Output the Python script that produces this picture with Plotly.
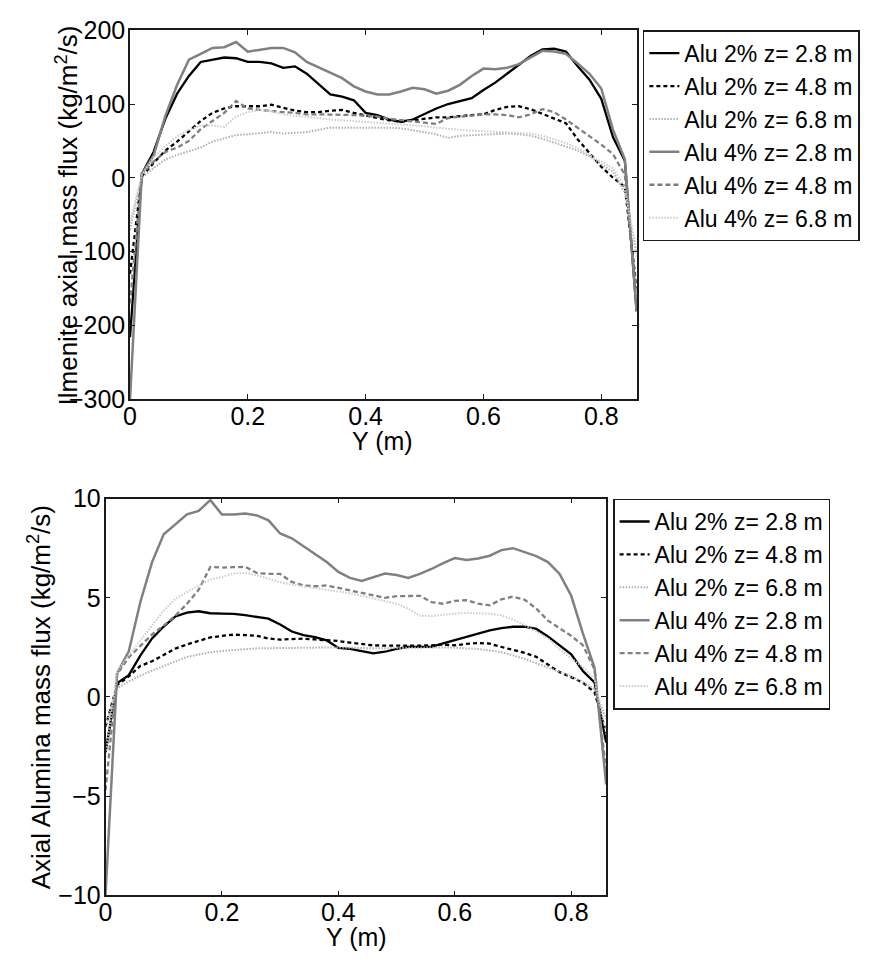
import plotly.graph_objects as go

# ---------------- data ----------------
Y = [0.00, 0.02, 0.04, 0.06, 0.08, 0.10, 0.12, 0.14, 0.16, 0.18, 0.20, 0.22, 0.24, 0.26, 0.28,
     0.30, 0.32, 0.34, 0.36, 0.38, 0.40, 0.42, 0.44, 0.46, 0.48, 0.50, 0.52, 0.54, 0.56, 0.58,
     0.60, 0.62, 0.64, 0.66, 0.68, 0.70, 0.72, 0.74, 0.76, 0.78, 0.80, 0.82, 0.84, 0.86]

series_names = ["Alu 2% z= 2.8 m", "Alu 2% z= 4.8 m", "Alu 2% z= 6.8 m",
                "Alu 4% z= 2.8 m", "Alu 4% z= 4.8 m", "Alu 4% z= 6.8 m"]

# Ilmenite axial mass flux (kg/m2/s)
ilm_2_28 = [-216, 5, 35, 80, 114, 138, 157, 160, 163, 162, 157, 157, 155, 149, 151,
            141, 127, 113, 110, 105, 88, 85, 79, 76, 79, 87, 94, 100, 104, 108,
            119, 129, 141, 153, 165, 174, 175, 171, 151, 133, 107, 55, 23, -181]
ilm_2_48 = [-130, 2, 20, 37, 49, 63, 77, 88, 94, 97, 97, 97, 99, 95, 91,
            89, 89, 91, 92, 88, 84, 81, 78, 76, 78, 80, 82, 82, 84, 85,
            86, 92, 96, 97, 93, 87, 81, 74, 52, 33, 15, 0, -12, -150]
ilm_2_68 = [-70, 0, 13, 25, 31, 36, 41, 49, 54, 58, 59, 60, 62, 60, 61,
            62, 65, 68, 68, 68, 69, 69, 68, 67, 65, 62, 59, 54, 57, 58,
            59, 60, 60, 59, 57, 53, 48, 43, 37, 29, 19, 8, -20, -100]
ilm_4_28 = [-300, 5, 30, 84, 126, 160, 168, 176, 177, 184, 171, 173, 176, 176, 170,
            157, 150, 143, 135, 124, 117, 113, 113, 117, 122, 120, 114, 118, 126, 138,
            148, 147, 149, 154, 163, 172, 171, 168, 155, 141, 121, 65, 25, -181]
ilm_4_48 = [-170, 5, 22, 35, 41, 50, 66, 77, 88, 104, 94, 92, 90, 89, 88,
            86, 86, 86, 86, 85, 84, 83, 80, 78, 77, 75, 73, 81, 83, 85,
            86, 86, 85, 82, 86, 93, 89, 79, 68, 56, 45, 32, 4, -160]
ilm_4_68 = [-60, 4, 28, 43, 56, 65, 71, 71, 69, 83, 89, 92, 90, 86, 84,
            83, 81, 79, 78, 77, 76, 75, 74, 73, 72, 70, 68, 67, 65, 64,
            63, 62, 62, 61, 60, 57, 52, 47, 40, 31, 22, 13, -13, -110]

# Axial Alumina mass flux (kg/m2/s)
alu_2_28 = [-2.8, 0.7, 1.1, 2.1, 2.95, 3.55, 4.06, 4.25, 4.32, 4.22, 4.2, 4.19, 4.12, 4.02, 3.95,
            3.65, 3.3, 3.12, 3.02, 2.85, 2.47, 2.42, 2.3, 2.2, 2.28, 2.43, 2.53, 2.53, 2.53, 2.7,
            2.86, 3.0, 3.18, 3.36, 3.47, 3.54, 3.54, 3.43, 3.05, 2.6, 2.15, 1.31, 0.73, -2.3]
alu_2_48 = [-1.5, 0.6, 1.04, 1.57, 1.8, 2.1, 2.44, 2.65, 2.82, 3.0, 3.08, 3.14, 3.12, 3.08, 2.95,
            2.89, 2.92, 2.94, 2.9, 2.86, 2.82, 2.74, 2.66, 2.6, 2.59, 2.58, 2.58, 2.59, 2.6, 2.64,
            2.6, 2.68, 2.72, 2.69, 2.52, 2.37, 2.22, 2.02, 1.62, 1.25, 1.0, 0.72, 0.24, -1.8]
alu_2_68 = [-1.5, 0.45, 0.78, 1.08, 1.33, 1.57, 1.8, 2.02, 2.14, 2.25, 2.32, 2.37, 2.42, 2.45, 2.46,
            2.47, 2.48, 2.49, 2.5, 2.5, 2.5, 2.48, 2.46, 2.45, 2.46, 2.47, 2.48, 2.49, 2.5, 2.5,
            2.48, 2.46, 2.42, 2.34, 2.26, 2.1, 1.92, 1.7, 1.48, 1.3, 1.05, 0.75, 0.4, -1.1]
alu_4_28 = [-10, 1.2, 2.3, 4.8, 6.8, 8.2, 8.7, 9.2, 9.38, 9.92, 9.2, 9.2, 9.25, 9.15, 8.9,
            8.24, 8.0, 7.6, 7.2, 6.8, 6.3, 6.0, 5.85, 6.05, 6.22, 6.15, 6.0, 6.2, 6.45, 6.75,
            7.0, 6.9, 6.98, 7.12, 7.4, 7.5, 7.3, 7.1, 6.8, 6.2, 5.1, 3.2, 1.47, -4.4]
alu_4_48 = [-4.7, 1.15, 2.0, 2.6, 3.15, 3.6, 4.1, 4.7, 5.4, 6.55, 6.52, 6.54, 6.56, 6.25, 6.2,
            6.2, 5.8, 5.62, 5.58, 5.62, 5.5, 5.35, 5.25, 5.12, 5.0, 5.08, 5.1, 5.1, 4.78, 4.7,
            4.84, 4.88, 4.7, 4.62, 4.92, 5.06, 4.9, 4.45, 3.85, 3.45, 3.08, 2.61, 1.39, -3.75]
alu_4_68 = [-3.0, 1.3, 2.1, 2.85, 3.65, 4.35, 4.95, 5.3, 5.62, 5.92, 6.05, 6.22, 6.25, 6.14, 5.95,
            5.78, 5.66, 5.58, 5.5, 5.4, 5.32, 5.23, 5.1, 4.97, 4.84, 4.7, 4.45, 4.1, 4.08, 4.15,
            4.2, 4.24, 4.23, 4.2, 4.12, 3.9, 3.63, 3.3, 2.95, 2.4, 1.95, 1.5, 0.9, -1.8]

x_ticks = [0, 0.2, 0.4, 0.6, 0.8]
x_ticktext = ["0", "0.2", "0.4", "0.6", "0.8"]
ilm_ticks = [-300, -200, -100, 0, 100, 200]
alu_ticks = [-10, -5, 0, 5, 10]

# ---------------- styles ----------------
styles = [
    dict(color="#000000", width=2.3, dash="solid"),
    dict(color="#000000", width=2.3, dash="4px,3px"),
    dict(color="#b0b0b0", width=2.0, dash="1.5px,1.5px"),
    dict(color="#808080", width=2.5, dash="solid"),
    dict(color="#808080", width=2.3, dash="5px,3px"),
    dict(color="#cccccc", width=2.0, dash="1.5px,1.5px"),
]

W, H = 875, 967
FONT = "Liberation Sans, Arial, sans-serif"

fig = go.Figure()
top_data = [ilm_2_28, ilm_2_48, ilm_2_68, ilm_4_28, ilm_4_48, ilm_4_68]
bot_data = [alu_2_28, alu_2_48, alu_2_68, alu_4_28, alu_4_48, alu_4_68]

for name, vals, st in zip(series_names, top_data, styles):
    fig.add_trace(go.Scatter(x=Y, y=vals, mode="lines", name=name, line=st,
                             xaxis="x", yaxis="y", legend="legend"))
for name, vals, st in zip(series_names, bot_data, styles):
    fig.add_trace(go.Scatter(x=Y, y=vals, mode="lines", name=name, line=st,
                             xaxis="x2", yaxis="y2", legend="legend2"))

def px_x(p):
    return p / W

def px_y(p):
    return 1 - p / H

axis_common = dict(showgrid=False, zeroline=False, showline=True, linecolor="#1a1a1a",
                   linewidth=1.5, mirror="ticks", ticks="inside", ticklen=5,
                   tickcolor="#1a1a1a", tickwidth=1,
                   tickfont=dict(family=FONT, size=25, color="black"))

legend_common = dict(bgcolor="white", bordercolor="#1a1a1a", borderwidth=1.5,
                     font=dict(family=FONT, size=23, color="black"),
                     xanchor="left", yanchor="top", tracegroupgap=0, itemwidth=30)

fig.update_layout(
    width=W, height=H,
    margin=dict(l=0, r=0, t=0, b=0),
    paper_bgcolor="white", plot_bgcolor="white",
    showlegend=True,
    xaxis=dict(domain=[px_x(124), px_x(634.7)], range=[0, 0.86], anchor="y",
               tickvals=x_ticks, ticktext=x_ticktext, ticklabelstandoff=-6, **axis_common),
    yaxis=dict(domain=[px_y(396.7), px_y(16.7)], range=[-300, 200], anchor="x",
               tickvals=ilm_ticks, ticklabelstandoff=-2, **axis_common),
    xaxis2=dict(domain=[px_x(99.3), px_x(604)], range=[0, 0.86], anchor="y2",
                tickvals=x_ticks, ticktext=x_ticktext, ticklabelstandoff=-6, **axis_common),
    yaxis2=dict(domain=[px_y(907.7), px_y(499)], range=[-10, 10], anchor="x2",
                tickvals=alu_ticks, ticklabelstandoff=-2, **axis_common),
    legend=dict(x=px_x(641), y=px_y(16.7), **legend_common),
    legend2=dict(x=px_x(611), y=px_y(499), **legend_common),
    annotations=[
        dict(text="Ilmenite axial mass flux (kg/m<sup>2</sup>/s)", x=px_x(61), y=px_y(208),
             xref="paper", yref="paper", textangle=-90, showarrow=False,
             xanchor="center", yanchor="middle", font=dict(family=FONT, size=26, color="black")),
        dict(text="Axial Alumina mass flux (kg/m<sup>2</sup>/s)", x=px_x(33), y=px_y(704),
             xref="paper", yref="paper", textangle=-90, showarrow=False,
             xanchor="center", yanchor="middle", font=dict(family=FONT, size=26, color="black")),
        dict(text="Y (m)", x=px_x(379), y=px_y(440), xref="paper", yref="paper",
             showarrow=False, xanchor="center", yanchor="middle",
             font=dict(family=FONT, size=25, color="black")),
        dict(text="Y (m)", x=px_x(352), y=px_y(951), xref="paper", yref="paper",
             showarrow=False, xanchor="center", yanchor="middle",
             font=dict(family=FONT, size=25, color="black")),
    ],
)

fig.write_html("out.html")
